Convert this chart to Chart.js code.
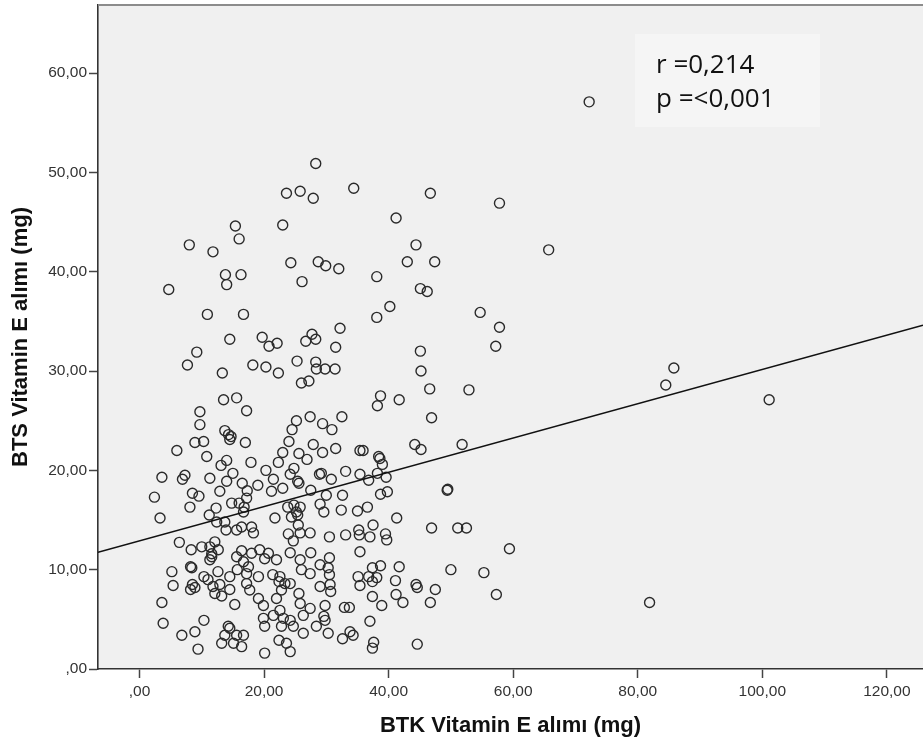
<!DOCTYPE html>
<html>
<head>
<meta charset="utf-8">
<title>BTK - BTS Vitamin E</title>
<script src="https://cdn.jsdelivr.net/npm/chart.js@4.4.1/dist/chart.umd.min.js"></script>
<style>
  html, body { margin: 0; padding: 0; background: #fff; }
  canvas { display: block; }
</style>
</head>
<body>
<canvas id="vitEChart" width="923" height="747"></canvas>
<script>
// BTK (x) and BTS (y) vitamin E intake per subject, mg
const btkIntake = [
  // upper left
  28.3, 23.6, 25.8, 27.9, 15.4, 16.0, 23.0, 8.0, 11.8, 24.3,
  28.7, 29.9, 32.0, 13.8, 16.3, 14.0, 26.1, 4.7, 10.9, 16.7,
  // upper right
  34.4, 46.7, 57.8, 41.2, 44.4, 43.0, 47.4, 65.7, 38.1, 45.1,
  46.2, 40.2, 38.1, 54.7, 72.2,
  // far right
  85.8, 84.5, 101.1, 81.9,
  // middle band, x 29-60
  32.2, 57.8, 31.5, 57.2, 45.1, 29.8, 31.4, 45.2, 46.6, 52.9,
  38.7, 38.2, 41.7, 32.5, 29.4, 30.9, 46.9, 44.2, 45.2, 51.8,
  31.5, 29.4, 35.4, 35.9, 38.4, 38.6, 39.0, 33.1, 29.2, 30.8,
  35.4, 36.8, 38.2, 39.6, 49.4, 49.5, 38.7, 39.8, 32.6, 30.0,
  // lower band, x 29-60
  29.0, 29.6, 32.4, 35.0, 36.6, 41.3, 46.9, 51.1, 52.5, 59.4,
  30.5, 33.1, 35.2, 35.3, 37.0, 37.5, 39.5, 39.7, 35.4, 30.5,
  29.0, 30.3, 37.4, 38.7, 41.7, 50.0, 55.3, 35.1, 36.8, 38.1,
  37.4, 30.5, 30.6, 30.7, 29.0, 35.4, 41.1, 44.4, 44.6, 47.5,
  41.2, 42.3, 37.4, 38.9, 46.7, 57.3, 29.8, 32.9, 33.7, 37.0,
  29.6, 29.8, 30.3, 33.8, 34.3, 32.6, 37.6, 37.4, 44.6,
  // middle band, x < 29
  14.5, 9.2, 7.7, 19.7, 20.8, 22.1, 27.7, 26.7, 28.3, 13.3,
  18.2, 20.3, 22.3, 25.3, 28.3, 28.4, 26.0, 27.2, 13.5, 15.6,
  9.7, 17.2, 9.7, 13.7, 14.3, 14.7, 14.5, 8.9, 10.3, 17.0,
  6.0, 10.8, 13.1, 14.0, 17.9, 3.6, 7.3, 6.9, 11.3, 15.0,
  14.0, 16.5, 17.3, 19.0, 20.3, 21.5, 22.3, 23.0, 24.0, 24.5,
  25.2, 27.4, 27.9, 25.6, 26.9, 24.8, 24.2, 25.4, 25.6, 28.9,
  12.9, 8.5, 9.55, 2.4, 21.2, 23.0, 27.5,
  // lower band, x < 29
  3.3, 8.1, 11.2, 12.3, 12.4, 13.7, 13.9, 14.8, 16.0, 16.7,
  17.2, 16.8, 15.6, 16.4, 18.0, 18.3, 21.75, 23.8, 24.8, 25.8,
  25.2, 25.4, 24.4, 25.5, 27.4, 25.8, 24.7, 23.9, 6.4, 8.3,
  10.0, 11.3, 11.6, 11.3, 11.6, 12.65, 12.1, 5.2, 5.4, 8.4,
  8.2, 8.5, 8.9, 8.2, 10.35, 11.0, 11.8, 12.6, 12.9, 12.1,
  13.2, 14.5, 15.3, 15.6, 16.4, 16.7, 17.5, 17.2, 15.7, 18.0,
  14.5, 19.1, 19.3, 20.7, 20.1, 22.0, 17.2, 17.7, 19.1, 19.9,
  21.4, 22.55, 22.4, 22.8, 22.0, 23.35, 24.2, 24.2, 25.8, 26.0,
  27.4, 27.5, 25.6, 25.8, 3.6, 3.8, 6.8, 8.9, 10.35, 9.4,
  14.25, 14.5, 13.7, 15.6, 16.7, 13.2, 15.1, 16.4, 20.1, 19.9,
  20.1, 21.5, 22.55, 23.1, 22.8, 24.7, 24.2, 22.4, 23.6, 24.2,
  26.3, 26.3, 27.4, 28.4
];
const btsIntake = [
  // upper left
  50.9, 47.9, 48.1, 47.4, 44.6, 43.3, 44.7, 42.7, 42.0, 40.9,
  41.0, 40.6, 40.3, 39.7, 39.7, 38.7, 39.0, 38.2, 35.7, 35.7,
  // upper right
  48.4, 47.9, 46.9, 45.4, 42.7, 41.0, 41.0, 42.2, 39.5, 38.3,
  38.0, 36.5, 35.4, 35.9, 57.1,
  // far right
  30.3, 28.6, 27.1, 6.7,
  // middle band, x 29-60
  34.3, 34.4, 32.4, 32.5, 32.0, 30.2, 30.2, 30.0, 28.2, 28.1,
  27.5, 26.5, 27.1, 25.4, 24.7, 24.1, 25.3, 22.6, 22.1, 22.6,
  22.2, 21.8, 22.0, 22.0, 21.4, 21.2, 20.6, 19.9, 19.7, 19.1,
  19.6, 19.0, 19.7, 19.3, 18.0, 18.1, 17.6, 17.85, 17.5, 17.5,
  // lower band, x 29-60
  16.6, 15.8, 16.0, 15.9, 16.3, 15.2, 14.2, 14.2, 14.2, 12.1,
  13.3, 13.5, 14.0, 13.5, 13.3, 14.5, 13.6, 13.0, 11.8, 11.2,
  10.5, 10.2, 10.2, 10.4, 10.3, 10.0, 9.7, 9.3, 9.3, 9.2,
  8.8, 9.5, 8.5, 7.8, 8.3, 8.4, 8.9, 8.5, 8.2, 8.0,
  7.5, 6.7, 7.3, 6.4, 6.7, 7.5, 6.4, 6.2, 6.2, 4.8,
  5.3, 4.9, 3.6, 3.75, 3.4, 3.05, 2.7, 2.1, 2.5,
  // middle band, x < 29
  33.2, 31.9, 30.6, 33.4, 32.5, 32.8, 33.7, 33.0, 33.2, 29.8,
  30.6, 30.4, 29.8, 31.0, 30.9, 30.2, 28.8, 29.0, 27.1, 27.3,
  25.9, 26.0, 24.6, 24.0, 23.6, 23.4, 23.1, 22.8, 22.9, 22.8,
  22.0, 21.4, 20.5, 21.0, 20.8, 19.3, 19.5, 19.1, 19.2, 19.7,
  18.9, 18.7, 17.95, 18.5, 20.0, 19.1, 20.8, 21.8, 22.9, 24.1,
  25.0, 25.4, 22.6, 21.7, 21.1, 20.2, 19.6, 18.9, 18.7, 19.6,
  17.9, 17.7, 17.4, 17.3, 17.9, 18.2, 18.0,
  // lower band, x < 29
  15.2, 16.3, 15.5, 16.2, 14.8, 14.8, 14.0, 16.7, 16.7, 15.8,
  17.2, 16.3, 14.0, 14.3, 14.3, 13.7, 15.2, 16.3, 16.5, 16.3,
  15.8, 15.5, 15.3, 14.5, 13.7, 13.7, 12.9, 13.6, 12.75, 12.0,
  12.3, 12.3, 11.6, 11.0, 11.3, 12.0, 12.8, 9.8, 8.4, 10.2,
  10.3, 8.5, 8.2, 8.0, 9.3, 9.0, 8.3, 9.8, 8.5, 7.6,
  7.35, 8.0, 6.5, 11.3, 11.9, 10.8, 10.3, 9.6, 10.0, 11.65,
  9.3, 9.3, 12.0, 11.65, 11.1, 11.0, 8.6, 7.95, 7.1, 6.4,
  9.5, 9.3, 8.8, 7.95, 7.1, 8.6, 8.6, 11.7, 11.0, 10.0,
  9.6, 11.7, 7.6, 6.6, 6.7, 4.6, 3.4, 3.75, 4.9, 2.0,
  4.3, 4.1, 3.4, 3.4, 3.4, 2.6, 2.6, 2.25, 1.6, 5.1,
  4.3, 5.4, 5.9, 5.1, 4.3, 4.3, 4.9, 2.9, 2.6, 1.75,
  3.6, 5.4, 6.1, 4.3
];

const xTicks = [0, 20, 40, 60, 80, 100, 120];
const yTicks = [0, 10, 20, 30, 40, 50, 60];
const xRange = [-6.66, 125.8];
const yRange = [0, 66.85];

// linear fit through the cloud
const fitIntercept = 12.9;
const fitSlope = 0.1726;
const statLines = ['r =0,214', 'p =<0,001'];

const points = btkIntake.map((x, i) => ({ x: x, y: btsIntake[i] }));
const fitLine = xRange.map(x => ({ x: x, y: fitIntercept + fitSlope * x }));

// 20 -> "20,00", 0 -> ",00"
const fmt = v => v === 0 ? ',00' : v.toFixed(2).replace('.', ',');

const plotBackground = {
    id: 'plotBackground',
    beforeDraw(chart) {
        const { ctx, chartArea: a } = chart;
        ctx.save();
        ctx.fillStyle = '#ffffff';
        ctx.fillRect(0, 0, chart.width, chart.height);
        ctx.fillStyle = '#f0f0f0';
        ctx.fillRect(a.left, a.top, a.right - a.left, a.bottom - a.top);
        // r / p box
        ctx.fillStyle = '#f5f5f5';
        ctx.fillRect(635, 34, 185, 93);
        ctx.fillStyle = '#111';
        ctx.font = '26px "Open Sans"';
        ctx.textBaseline = 'alphabetic';
        ctx.fillText(statLines[0], 656, 73);
        ctx.fillText(statLines[1], 656, 107);
        ctx.restore();
    },
    afterDraw(chart) {
        const { ctx, chartArea: a } = chart;
        ctx.save();
        ctx.strokeStyle = '#8c8c8c';
        ctx.lineWidth = 2;
        ctx.beginPath();
        ctx.moveTo(a.left, a.top);
        ctx.lineTo(a.right, a.top);
        ctx.stroke();
        ctx.restore();
    }
};

const tickFont = { family: 'Liberation Sans', size: 15.5 };
const titleFont = { family: 'Liberation Sans', size: 22, weight: 'bold' };

const ctx = document.getElementById('vitEChart').getContext('2d');
const vitEChart = new Chart(ctx, {
    type: 'scatter',
    data: {
        datasets: [{
            type: 'line',
            data: fitLine,
            borderColor: '#111',
            borderWidth: 1.7,
            pointRadius: 0,
            fill: false,
            tension: 0
        }, {
            data: points,
            pointStyle: 'circle',
            pointRadius: 5,
            pointHoverRadius: 5,
            borderColor: '#2a2a2a',
            borderWidth: 1.4,
            backgroundColor: 'rgba(0,0,0,0)'
        }]
    },
    options: {
        responsive: false,
        animation: false,
        devicePixelRatio: 1,
        layout: { autoPadding: false, padding: { top: 5, left: 0, right: 0, bottom: 0 } },
        plugins: { legend: { display: false }, tooltip: { enabled: false } },
        scales: {
            x: {
                type: 'linear',
                min: xRange[0],
                max: xRange[1],
                afterBuildTicks: s => { s.ticks = xTicks.map(v => ({ value: v })); },
                afterFit: s => { s.height = 78; s.paddingLeft = 0; s.paddingRight = 0; },
                ticks: { callback: fmt, color: '#333', font: tickFont, padding: 4, maxRotation: 0, autoSkip: false },
                grid: { drawOnChartArea: false, drawTicks: true, tickLength: 9, tickColor: '#444', tickWidth: 1.5 },
                border: { display: true, color: '#333', width: 1.6 },
                title: { display: true, text: 'BTK Vitamin E alımı (mg)', color: '#111', font: titleFont, padding: { top: 0, bottom: 8 } }
            },
            y: {
                type: 'linear',
                min: yRange[0],
                max: yRange[1],
                afterBuildTicks: s => { s.ticks = yTicks.map(v => ({ value: v })); },
                afterFit: s => { s.width = 98; s.paddingTop = 0; s.paddingBottom = 0; },
                ticks: { callback: fmt, color: '#333', font: tickFont, padding: 2, autoSkip: false },
                grid: { drawOnChartArea: false, drawTicks: true, tickLength: 9, tickColor: '#444', tickWidth: 1.5 },
                border: { display: true, color: '#333', width: 1.6 },
                title: { display: true, text: 'BTS Vitamin E alımı (mg)', color: '#111', font: titleFont, padding: { top: 8, bottom: 0 } }
            }
        }
    },
    plugins: [plotBackground]
});
</script>
</body>
</html>
